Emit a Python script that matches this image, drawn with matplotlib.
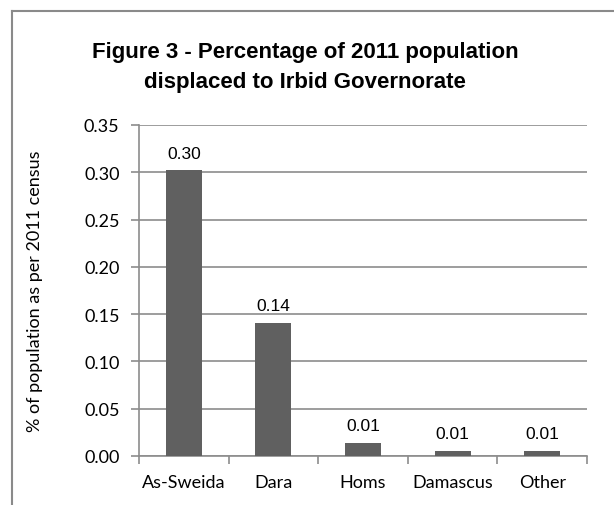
import matplotlib.pyplot as plt
import numpy as np
from matplotlib.lines import Line2D

# data
regions = ['As-Sweida', 'Dara', 'Homs', 'Damascus', 'Other']
share = [0.302, 0.1405, 0.0137, 0.0052, 0.0057]
shown = ['0.30', '0.14', '0.01', '0.01', '0.01']
yticks = [0.00, 0.05, 0.10, 0.15, 0.20, 0.25, 0.30, 0.35]
title_lines = ['Figure 3 - Percentage of 2011 population', 'displaced to Irbid Governorate']

narrow = ['Liberation Sans', 'DejaVu Sans']
body = ['Lato', 'DejaVu Sans']
grey = '#8c8c8c'

fig = plt.figure(figsize=(6.14, 5.06), dpi=100)
ax = fig.add_axes([139/614, 49/506, 448/614, 331/506])

x = np.arange(len(regions))
ax.bar(x, share, width=0.4, color='#606060', zorder=3)

for xi, v, s in zip(x, share, shown):
    ax.annotate(s, (xi, v), xytext=(0, 7), textcoords='offset points',
                ha='center', va='bottom', fontsize=12.5, family=narrow)

ax.set_xlim(-0.5, len(regions) - 0.5)
ax.set_ylim(0, 0.35)
ax.set_yticks(yticks, ['%.2f' % t for t in yticks], family=body, fontsize=13)
ax.grid(axis='y', color=grey, linewidth=1.2, zorder=0)

## ticks between categories, labels at centres
ax.set_xticks(np.arange(-0.5, len(regions)), [])
ax.set_xticks(x, regions, minor=True, family=body, fontsize=13)
ax.tick_params(axis='x', which='major', length=6, width=1.2, color=grey, direction='out')
ax.tick_params(axis='x', which='minor', length=0, pad=13)
ax.tick_params(axis='y', length=6, width=1.2, color=grey, pad=8)

for side in ['top', 'right']:
    ax.spines[side].set_visible(False)
for side in ['left', 'bottom']:
    ax.spines[side].set_color(grey)
    ax.spines[side].set_linewidth(1.2)

ax.set_ylabel('% of population as per 2011 census', family=body, fontsize=13)
ax.yaxis.set_label_coords(-0.214, 0.5)

## two title lines, placed by baseline
for line, base in zip(title_lines, [58, 88]):
    fig.text(0.497, 1 - base/506, line, ha='center', va='baseline',
             fontsize=16, fontweight='bold', family=narrow)

## chart-area border, only top and left visible
fig.add_artist(Line2D([12/614, 12/614], [0, 1 - 12/506], color='#8a8a8a', lw=1.5,
                      transform=fig.transFigure))
fig.add_artist(Line2D([12/614, 1], [1 - 12/506, 1 - 12/506], color='#8a8a8a', lw=1.5,
                      transform=fig.transFigure))

fig.savefig('out.png', dpi=100)
